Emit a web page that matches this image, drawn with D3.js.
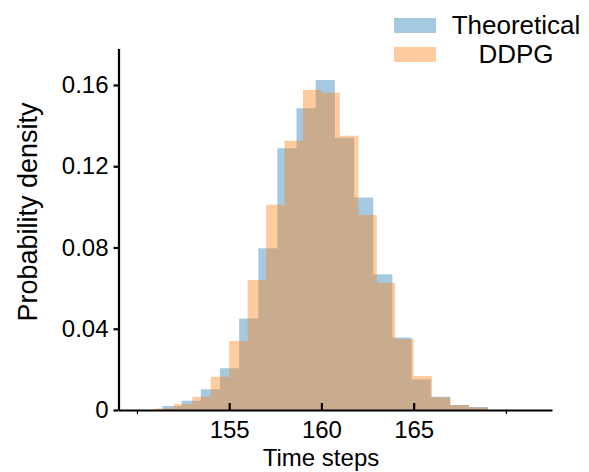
<!DOCTYPE html>
<html>
<head>
<meta charset="utf-8">
<script src="https://cdn.jsdelivr.net/npm/d3@7"></script>
<style>
	body { margin: 0; background: #fff; }
	text { font-family: "Liberation Sans", Arial, sans-serif; fill: #000; }
</style>
</head>
<body>
<svg width="589" height="472"></svg>
<script>

// bin edges (time steps) and densities
const theoreticalEdges = [151.38, 152.42, 153.46, 154.50, 155.54, 156.58, 157.61, 158.65, 159.69,
	160.73, 161.77, 162.81, 163.85, 164.89, 165.93, 166.97, 168.00, 169.04];
const theoreticalDensity = [0.002, 0.0046, 0.0102, 0.0205, 0.0451, 0.0796, 0.1288, 0.1485, 0.1625,
	0.134, 0.1046, 0.0668, 0.0357, 0.0151, 0.0065, 0.0025, 0.0015];

const ddpgEdges = [151, 152, 153, 154, 155, 156, 157, 158, 159, 160, 161, 162, 163, 164, 165, 166, 167, 168, 169];
const ddpgDensity = [0.0008, 0.003, 0.0065, 0.0164, 0.034, 0.064, 0.101, 0.1326, 0.1575,
	0.1562, 0.135, 0.096, 0.0627, 0.035, 0.0167, 0.0062, 0.0025, 0.0012];

const xTicks = [155, 160, 165];
const xMinorTicks = [150, 170];
const yTicks = [0, 0.04, 0.08, 0.12, 0.16];
const seriesNames = ['Theoretical', 'DDPG'];

const COLORS = ['#1f77b4', '#ff7f0e'];
const ALPHA = 0.4;
const FONT = '"Liberation Sans", Arial, sans-serif';

const svg = d3.select('svg');

const x = d3.scaleLinear().domain([149, 172.5]).range([118.5, 552]);
const y = d3.scaleLinear().domain([0, 0.178]).range([410, 48.4]);

// turn edges + densities into step points
function steps(edges, dens) {
	let pts = dens.map((d, i) => ({ x: edges[i], y: d }));
	pts.push({ x: edges[edges.length - 1], y: dens[dens.length - 1] });
	return pts;
}

const area = d3.area()
	.curve(d3.curveStepAfter)
	.x(d => x(d.x))
	.y0(y(0))
	.y1(d => y(d.y));

const hists = [
	steps(theoreticalEdges, theoreticalDensity),
	steps(ddpgEdges, ddpgDensity)
];

svg.selectAll('.hist')
	.data(hists)
	.enter()
	.append('path')
	.attr('class', 'hist')
	.attr('d', area)
	.attr('fill', (d, i) => COLORS[i])
	.attr('fill-opacity', ALPHA);

// x axis
const xAxis = svg.append('g')
	.attr('transform', 'translate(0,' + y(0) + ')')
	.call(d3.axisBottom(x).tickValues(xTicks).tickSize(-7).tickSizeOuter(0).tickPadding(11));
xAxis.select('.domain').attr('stroke-width', 2.2);
xAxis.selectAll('.tick line').attr('stroke-width', 2.2);
xAxis.selectAll('.tick text').attr('font-size', 24).style('font-family', FONT);

const xMinor = svg.append('g')
	.attr('transform', 'translate(0,' + y(0) + ')')
	.call(d3.axisBottom(x).tickValues(xMinorTicks).tickSize(4).tickFormat(''));
xMinor.select('.domain').remove();
xMinor.selectAll('.tick line').attr('stroke-width', 1.2);

// y axis
const yAxis = svg.append('g')
	.attr('transform', 'translate(' + x(149) + ',0)')
	.call(d3.axisLeft(y).tickValues(yTicks).tickSize(5).tickSizeOuter(0).tickPadding(5)
		.tickFormat(d => d === 0 ? '0' : d3.format('.2f')(d)));
yAxis.select('.domain').attr('stroke-width', 2.2);
yAxis.selectAll('.tick line').attr('stroke-width', 2.2);
yAxis.selectAll('.tick text').attr('font-size', 24).style('font-family', FONT);

// labels
svg.append('text')
	.attr('x', 321)
	.attr('y', 466)
	.attr('text-anchor', 'middle')
	.attr('font-size', 24)
	.text('Time steps');

svg.append('text')
	.attr('transform', 'translate(37,212) rotate(-90)')
	.attr('text-anchor', 'middle')
	.attr('font-size', 27)
	.text('Probability density');

// legend
const legend = svg.append('g').attr('class', 'legend');
const legendRows = [25, 54];
seriesNames.forEach((name, i) => {
	legend.append('rect')
		.attr('x', 394)
		.attr('y', legendRows[i] - 7)
		.attr('width', 42)
		.attr('height', 15)
		.attr('fill', COLORS[i])
		.attr('fill-opacity', ALPHA);
	legend.append('text')
		.attr('x', 516)
		.attr('y', legendRows[i] + 9)
		.attr('text-anchor', 'middle')
		.attr('font-size', 26)
		.text(name);
});

</script>
</body>
</html>
